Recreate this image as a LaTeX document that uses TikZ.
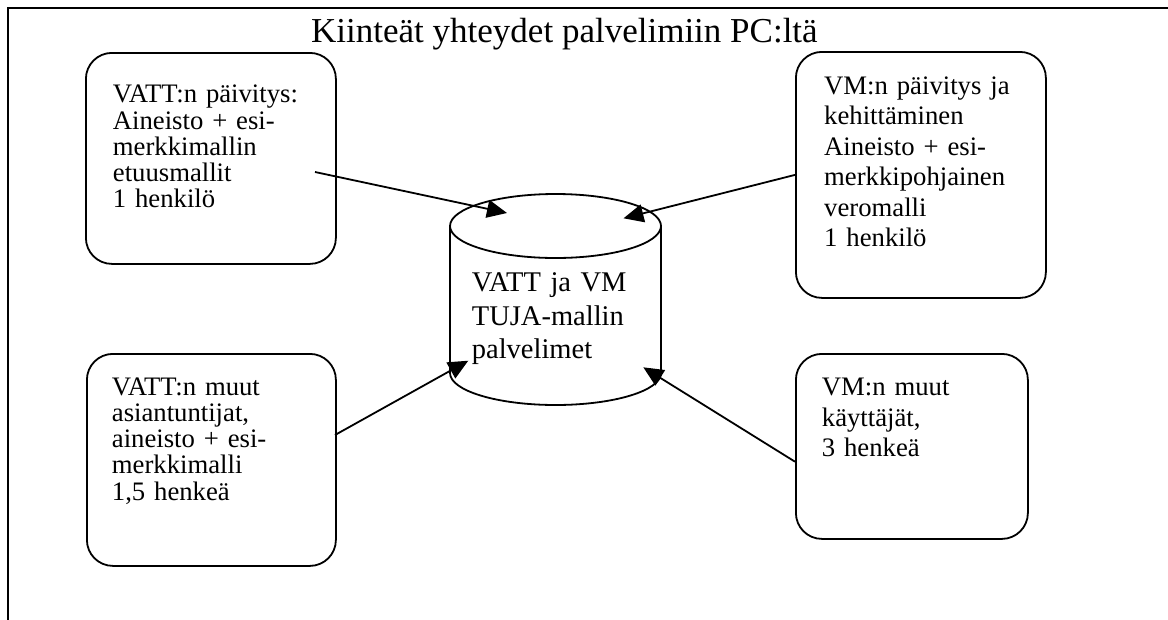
\documentclass[tikz,border=0pt]{standalone}
\usepackage{fontspec}
\setmainfont{Liberation Serif}
\usetikzlibrary{arrows.meta}
\begin{document}
\begin{tikzpicture}[x=1pt,y=-1pt,
  lw/.style={line width=1.8pt},
  box/.style={draw, lw, rounded corners=26pt, inner sep=0pt, anchor=north west},
  txt/.style={anchor=base west, inner sep=0pt, text width=225pt, align=left},
  ltxt/.style={txt, font=\fontsize{26.7}{26.3}\selectfont},
  rtxt/.style={txt, font=\fontsize{26.7}{30.5}\selectfont},
  ctxt/.style={txt, text width=190pt, font=\fontsize{28.5}{33.3}\selectfont},
  arr/.style={lw, -{Triangle[length=20pt,width=18pt]}},
]
\useasboundingbox (0,0) rectangle (1168,619);
% frame (top and left edges)
\draw[line width=2pt] (7.5,625) -- (7.5,7.5) -- (1172,7.5);
% title
\node[anchor=base west, inner sep=0pt, font=\fontsize{35}{40}\selectfont] (title) at (311,42) {Kiinteät yhteydet palvelimiin PC:ltä};
% boxes
\node[box, minimum width=250pt, minimum height=211pt] (b1) at (85,52) {};
\node[box, minimum width=250pt, minimum height=246pt] (b2) at (795,51) {};
\node[box, minimum width=249pt, minimum height=212pt] (b3) at (86,353) {};
\node[box, minimum width=232pt, minimum height=185pt] (b4) at (795,353) {};
\node[ltxt] (t1txt) at (112.7,102.7) {VATT:n päivitys:\\Aineisto + esi-\\merkkimallin\\etuusmallit\\1 henkilö};
\node[rtxt] (t2txt) at (824,94.3) {VM:n päivitys ja\\kehittäminen\\Aineisto + esi-\\merkkipohjainen\\veromalli\\1 henkilö};
\node[ltxt] (t3txt) at (111.7,395) {VATT:n muut\\asiantuntijat,\\aineisto + esi-\\merkkimalli\\1,5 henkeä};
\node[rtxt] (t4txt) at (821.7,395.5) {VM:n muut\\käyttäjät,\\3 henkeä};
% cylinder
\node[inner sep=0pt, minimum width=211pt, minimum height=211pt] (db) at (555.5,300) {};
\draw[lw] (555.5,226) ellipse[x radius=105.5pt, y radius=32pt];
\draw[lw] (450,226) -- (450,373) arc[start angle=180, end angle=360, x radius=105.5pt, y radius=32pt] -- (661,226);
\node[ctxt] (dbtxt) at (471.7,291.7) {VATT ja VM\\TUJA-mallin\\palvelimet};
% connectors
\coordinate (s1) at (315,172);
\coordinate (e1) at (507,213);
\coordinate (e2) at (623.5,218.3);
\coordinate (s3) at (335,435);
\coordinate (e3) at (468.3,360.7);
\coordinate (s4) at (795,461.7);
\coordinate (e4) at (643.3,367.3);
\draw[arr] (s1) -- (e1);
\draw[arr] (b2.west) -- (e2);
\draw[arr] (s3) -- (e3);
\draw[arr] (s4) -- (e4);
\end{tikzpicture}
\end{document}
